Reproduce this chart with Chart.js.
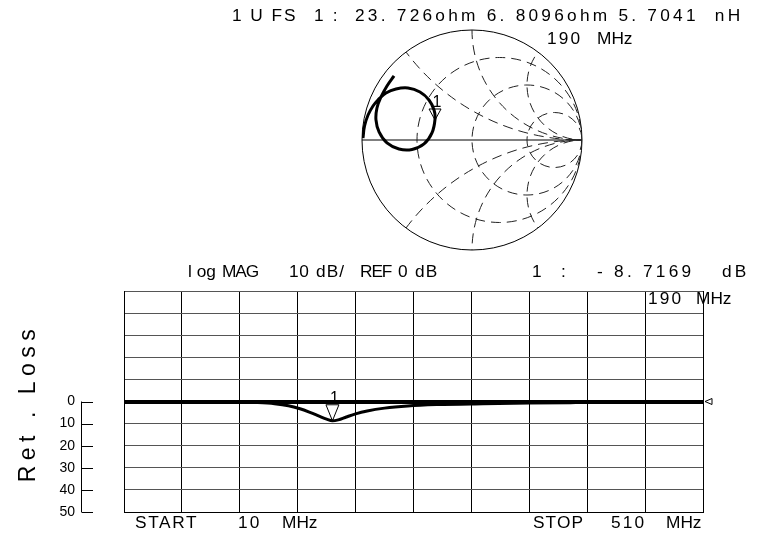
<!DOCTYPE html>
<html lang="en">
<head>
  <meta charset="UTF-8" />
  <title>Ret. Loss - Smith / log MAG</title>
  <script src="https://cdn.jsdelivr.net/npm/chart.js"></script>
  <style>
    body {
      margin: 0;
      background: #fff;
    }

    #wrap {
      position: relative;
      width: 773px;
      height: 538px;
      overflow: hidden;
      font-family: "Liberation Sans", Arial, sans-serif;
      color: #000;
    }

    canvas {
      position: absolute;
      left: 0;
      top: 0;
    }

    .t {
      position: absolute;
      font-size: 16px;
      line-height: 16px;
      letter-spacing: 2px;
      white-space: pre;
      transform: scaleX(1.08);
      transform-origin: 0 0;
    }

    #ytitle {
      position: absolute;
      left: -53px;
      top: 389px;
      width: 160px;
      text-align: center;
      font-size: 23px;
      line-height: 28px;
      letter-spacing: 5.5px;
      white-space: pre;
      transform: rotate(-90deg);
    }
  </style>
</head>
<body>

<div id="wrap">
  <canvas id="rl" width="773" height="538"></canvas>
  <canvas id="smith" width="773" height="538"></canvas>

  <!-- cabecera Smith -->
  <div class="t" style="left:232px;top:8px;letter-spacing:1.8px">1 U FS</div>
  <div class="t" style="left:314px;top:8px;letter-spacing:2px">1 :</div>
  <div class="t" style="left:355px;top:8px;letter-spacing:3px">23. 726ohm 6. 8096ohm 5. 7041  nH</div>
  <div class="t" style="left:547px;top:31px">190</div>
  <div class="t" style="left:597px;top:31px;letter-spacing:0">MHz</div>

  <!-- cabecera log MAG -->
  <div class="t" style="left:188px;top:264px;letter-spacing:0">l og</div>
  <div class="t" style="left:222px;top:264px;letter-spacing:-1px">MAG</div>
  <div class="t" style="left:289px;top:264px;letter-spacing:0.5px">10</div>
  <div class="t" style="left:316px;top:264px;letter-spacing:1px">dB/</div>
  <div class="t" style="left:360px;top:264px;letter-spacing:-1px">REF</div>
  <div class="t" style="left:398px;top:264px">0</div>
  <div class="t" style="left:415px;top:264px;letter-spacing:1px">dB</div>
  <div class="t" style="left:532px;top:264px">1</div>
  <div class="t" style="left:561px;top:264px">:</div>
  <div class="t" style="left:597px;top:264px;letter-spacing:3px">- 8. 7169</div>
  <div class="t" style="left:722px;top:264px;letter-spacing:3px">dB</div>
  <div class="t" style="left:648px;top:291px">190</div>
  <div class="t" style="left:696px;top:291px;letter-spacing:0">MHz</div>

  <div class="t" style="left:135px;top:515px;letter-spacing:1.5px">START</div>
  <div class="t" style="left:238px;top:515px">10</div>
  <div class="t" style="left:282px;top:515px;letter-spacing:0">MHz</div>
  <div class="t" style="left:533px;top:515px;letter-spacing:1px">STOP</div>
  <div class="t" style="left:611px;top:515px">510</div>
  <div class="t" style="left:666px;top:515px;letter-spacing:0">MHz</div>

  <div id="ytitle">Ret . Loss</div>
</div>

<script>
  // barrido 10 - 510 MHz, perdida de retorno (dB)
  const freqMHz   = [10, 60, 110, 125, 140, 152, 162, 170, 178, 185, 190, 195, 202, 210, 220, 235, 255, 280, 320, 360, 400, 450, 510];
  const retLossDb = [-0.2, -0.2, -0.3, -0.5, -1.0, -1.9, -3.3, -4.8, -6.5, -8.0, -8.72, -8.3, -7.0, -5.6, -4.3, -3.0, -2.0, -1.4, -1.0, -0.7, -0.5, -0.3, -0.2];
  const markerFreq = 190;

  // traza en la carta de Smith (coeficiente de reflexion)
  const smithRe = [-0.991, -0.977, -0.945, -0.900, -0.855, -0.782, -0.691, -0.582, -0.473, -0.391, -0.345, -0.336, -0.364, -0.436, -0.545, -0.664, -0.773, -0.845, -0.873, -0.864, -0.827, -0.773, -0.709];
  const smithIm = [0.018, 0.127, 0.227, 0.309, 0.364, 0.427, 0.464, 0.473, 0.436, 0.364, 0.273, 0.191, 0.064, -0.036, -0.086, -0.082, -0.027, 0.073, 0.182, 0.291, 0.391, 0.491, 0.582];
  const smithMarkerIndex = 11;

  // rejilla de la carta
  const resistanceCircles = [1 / 3, 1, 3];
  const reactanceArcs = [0.5, 1, 2, -0.5, -1, -2];

  const dBTicks = [0, -10, -20, -30, -40, -50];

  const FONT = '"Liberation Sans", Arial, sans-serif';

  function drawMarker(ctx, px, py, w, h, label) {
    ctx.save();
    ctx.strokeStyle = '#000';
    ctx.lineWidth = 1;
    ctx.beginPath();
    ctx.moveTo(px - w / 2, py - h);
    ctx.lineTo(px + w / 2, py - h);
    ctx.lineTo(px, py);
    ctx.closePath();
    ctx.stroke();
    ctx.fillStyle = '#000';
    ctx.font = '16px ' + FONT;
    ctx.textAlign = 'center';
    ctx.textBaseline = 'alphabetic';
    ctx.fillText(label, px + 2, py - h - 2);
    ctx.restore();
  }

  const rlDecor = {
    id: 'rlDecor',
    afterDraw(chart) {
      const { ctx, scales: { x, y } } = chart;
      ctx.save();
      ctx.strokeStyle = '#000';
      ctx.lineWidth = 1;
      // escala de la izquierda
      const top = y.getPixelForValue(0), bot = y.getPixelForValue(-50);
      ctx.beginPath();
      ctx.moveTo(81.5, top);
      ctx.lineTo(81.5, bot);
      dBTicks.forEach(v => {
        const py = Math.round(y.getPixelForValue(v)) + 0.5;
        ctx.moveTo(81.5, py);
        ctx.lineTo(93, py);
      });
      ctx.stroke();
      // indicador de referencia
      const ry = y.getPixelForValue(0);
      const rx = chart.chartArea.right + 2;
      ctx.beginPath();
      ctx.moveTo(rx, ry);
      ctx.lineTo(rx + 7, ry - 3);
      ctx.lineTo(rx + 7, ry + 3);
      ctx.closePath();
      ctx.stroke();
      ctx.restore();

      const i = freqMHz.indexOf(markerFreq);
      drawMarker(ctx, x.getPixelForValue(freqMHz[i]), y.getPixelForValue(retLossDb[i]), 13, 16, '1');
    }
  };

  const smithGrid = {
    id: 'smithGrid',
    beforeDatasetsDraw(chart) {
      const { ctx, scales: { x, y } } = chart;
      const cx = x.getPixelForValue(0), cy = y.getPixelForValue(0);
      const R = x.getPixelForValue(1) - cx;
      ctx.save();
      ctx.strokeStyle = '#000';
      ctx.lineWidth = 1;
      ctx.beginPath();
      ctx.arc(cx, cy, R, 0, Math.PI * 2);
      ctx.stroke();
      ctx.beginPath();
      ctx.moveTo(cx - R, cy);
      ctx.lineTo(cx + R, cy);
      ctx.stroke();

      ctx.beginPath();
      ctx.arc(cx, cy, R, 0, Math.PI * 2);
      ctx.clip();
      ctx.strokeStyle = '#222';
      ctx.setLineDash([10, 6]);
      resistanceCircles.forEach(r => {
        ctx.beginPath();
        ctx.arc(x.getPixelForValue(r / (r + 1)), cy, R / (r + 1), 0, Math.PI * 2);
        ctx.stroke();
      });
      reactanceArcs.forEach(xv => {
        ctx.beginPath();
        ctx.arc(x.getPixelForValue(1), y.getPixelForValue(1 / xv), R / Math.abs(xv), 0, Math.PI * 2);
        ctx.stroke();
      });
      ctx.restore();
    },
    afterDraw(chart) {
      const { ctx, scales: { x, y } } = chart;
      drawMarker(ctx, x.getPixelForValue(smithRe[smithMarkerIndex]), y.getPixelForValue(smithIm[smithMarkerIndex]) + 1, 12, 11, '1');
    }
  };

  new Chart(document.getElementById('rl'), {
    type: 'line',
    data: {
      datasets: [{
        label: 'Ret. Loss',
        data: freqMHz.map((f, i) => ({ x: f, y: retLossDb[i] })),
        borderColor: '#000',
        borderWidth: 3,
        pointRadius: 0,
        cubicInterpolationMode: 'monotone'
      }]
    },
    options: {
      responsive: false,
      animation: false,
      layout: { autoPadding: false, padding: { left: 0, top: 291, right: 70, bottom: 26 } },
      plugins: {
        legend: { display: false },
        tooltip: { enabled: false }
      },
      scales: {
        x: {
          type: 'linear',
          min: 10,
          max: 510,
          ticks: { display: false, stepSize: 50 },
          grid: { color: '#000', drawTicks: false },
          border: { color: '#000' },
          afterFit(s) { s.height = 0; }
        },
        y: {
          min: -50,
          max: 50,
          ticks: {
            stepSize: 10,
            padding: 49,
            color: '#000',
            font: { size: 14, family: FONT },
            callback: v => (v <= 0 ? String(-v) : '')
          },
          grid: {
            color: c => (c.tick && c.tick.value === 0 ? '#000' : '#555'),
            lineWidth: c => (c.tick && c.tick.value === 0 ? 4 : 1),
            drawTicks: false
          },
          border: { color: '#000' },
          // la escala de etiquetas no debe recortar el area del grafico
          afterFit(s) {
            s.width = 124;
            s.paddingTop = 0;
            s.paddingBottom = 0;
          }
        }
      }
    },
    plugins: [rlDecor]
  });

  new Chart(document.getElementById('smith'), {
    type: 'scatter',
    data: {
      datasets: [{
        label: 'S11',
        data: smithRe.map((r, i) => ({ x: r, y: smithIm[i] })),
        showLine: true,
        borderColor: '#000',
        borderWidth: 3,
        pointRadius: 0,
        tension: 0.4
      }]
    },
    options: {
      responsive: false,
      animation: false,
      layout: { padding: { left: 362, right: 191, top: 30, bottom: 288 } },
      plugins: {
        legend: { display: false },
        tooltip: { enabled: false }
      },
      scales: {
        x: { display: false, min: -1, max: 1 },
        y: { display: false, min: -1, max: 1 }
      }
    },
    plugins: [smithGrid]
  });
</script>

</body>
</html>
